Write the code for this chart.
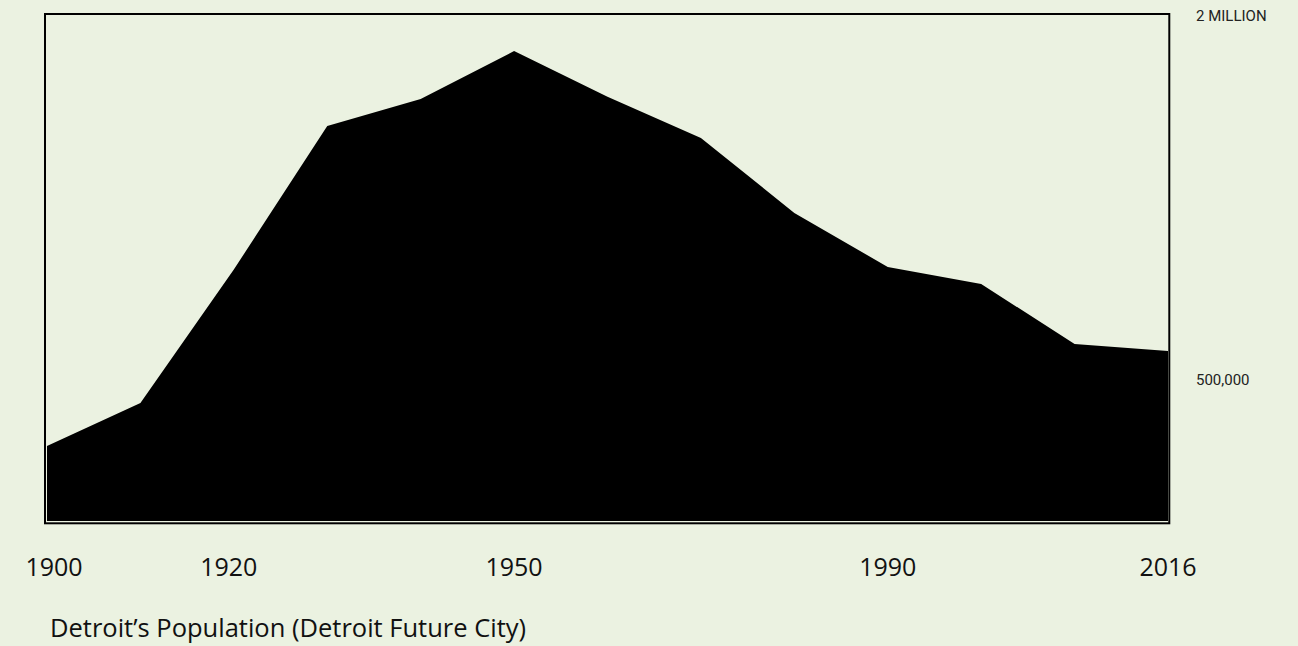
<!DOCTYPE html>
<html>
<head>
<meta charset="utf-8">
<script src="https://cdn.jsdelivr.net/npm/d3@7"></script>
<style>
  html, body { margin: 0; padding: 0; background: #ebf2e1; }
  svg { display: block; }
</style>
</head>
<body>
<div id="root"></div>
<script>
// Detroit population by census year
const years = [1900, 1910, 1920, 1930, 1940, 1950, 1960, 1970, 1980, 1990, 2000, 2010, 2016];
const population = [295000, 465000, 990000, 1555000, 1661000, 1850000, 1670000, 1508000, 1213000, 1000000, 933000, 697000, 669000];

const yearTicks = [1900, 1920, 1950, 1990, 2016];
const valueTicks = [2000000, 500000];
const valueTickLabels = ["2 MILLION", "500,000"];

const width = 1298;
const height = 646;

const frame = { left: 45, top: 14, right: 1169.3, bottom: 523.3 };
const plot = { left: 47, right: 1168, top: 13, bottom: 521 };

const svg = d3
  .select("#root")
  .append("svg")
  .attr("width", width)
  .attr("height", height);

svg
  .append("rect")
  .attr("width", width)
  .attr("height", height)
  .attr("fill", "#ebf2e1");

const xScale = d3
  .scalePoint()
  .domain(years)
  .range([plot.left, plot.right]);

const yScale = d3
  .scaleLinear()
  .domain([0, 2000000])
  .range([plot.bottom, plot.top]);

const data = years.map((year, i) => ({ year, value: population[i] }));

const area = d3
  .area()
  .x((d) => xScale(d.year))
  .y0(plot.bottom)
  .y1((d) => yScale(d.value));

svg
  .append("path")
  .datum(data)
  .attr("d", area)
  .attr("fill", "#000");

// frame round the plot
svg
  .append("rect")
  .attr("x", frame.left)
  .attr("y", frame.top)
  .attr("width", frame.right - frame.left)
  .attr("height", frame.bottom - frame.top)
  .attr("fill", "none")
  .attr("stroke", "#000")
  .attr("stroke-width", 2);

// value labels on the right
svg
  .selectAll(".value-label")
  .data(valueTicks)
  .join("text")
  .attr("class", "value-label")
  .attr("x", 1196)
  .attr("y", (d, i) => yScale(d) + (i === 0 ? 7.5 : -9))
  .attr("font-family", "Roboto, sans-serif")
  .attr("font-size", 15)
  .attr("fill", "#222")
  .text((d, i) => valueTickLabels[i]);

// year labels (first one sits a little right of its point)
svg
  .selectAll(".year-label")
  .data(yearTicks)
  .join("text")
  .attr("class", "year-label")
  .attr("x", (d, i) => xScale(d) + (i === 0 ? 7 : i === 1 ? -5 : 0))
  .attr("y", 576)
  .attr("text-anchor", "middle")
  .attr("font-family", "'Open Sans', sans-serif")
  .attr("font-size", 25)
  .attr("fill", "#111")
  .text((d) => d);

svg
  .append("text")
  .attr("x", 50)
  .attr("y", 637)
  .attr("font-family", "'Open Sans', sans-serif")
  .attr("font-size", 25.5)
  .attr("fill", "#111")
  .text("Detroit’s Population (Detroit Future City)");
</script>
</body>
</html>
